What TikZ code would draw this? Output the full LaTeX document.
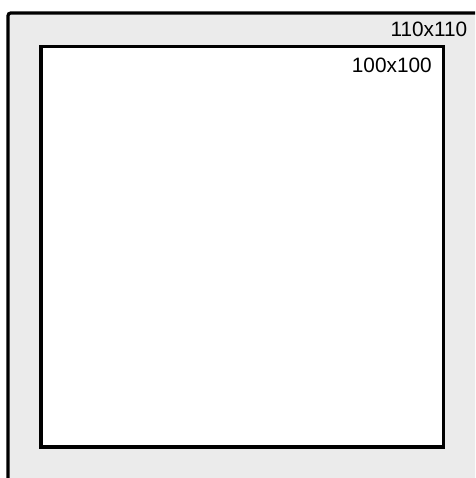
\documentclass[tikz,border=0pt]{standalone}
\usepackage{fontspec}
\setmainfont{Liberation Sans}
\definecolor{panelgray}{RGB}{235,235,235}
\begin{document}
\begin{tikzpicture}[x=0.75pt,y=-0.75pt,
  box/.style={draw=black,line width=2.4pt},
  lbl/.style={font=\fontsize{15.6pt}{18pt}\selectfont,anchor=base east,inner sep=0pt}]
\useasboundingbox (0,0) rectangle (475,478);
\fill[white] (0,0) rectangle (475,478);
\begin{scope}
\clip (0,0) rectangle (475,478);
\draw[box,fill=panelgray,rounded corners=2pt] (8,13) rectangle (490,495);
\end{scope}
\draw[box,fill=white] (41,46.5) rectangle (443.5,447);
\node[lbl] (outerlbl) at (467.5,37) {110x110};
\node[lbl] (innerlbl) at (432,73) {100x100};
\end{tikzpicture}
\end{document}
